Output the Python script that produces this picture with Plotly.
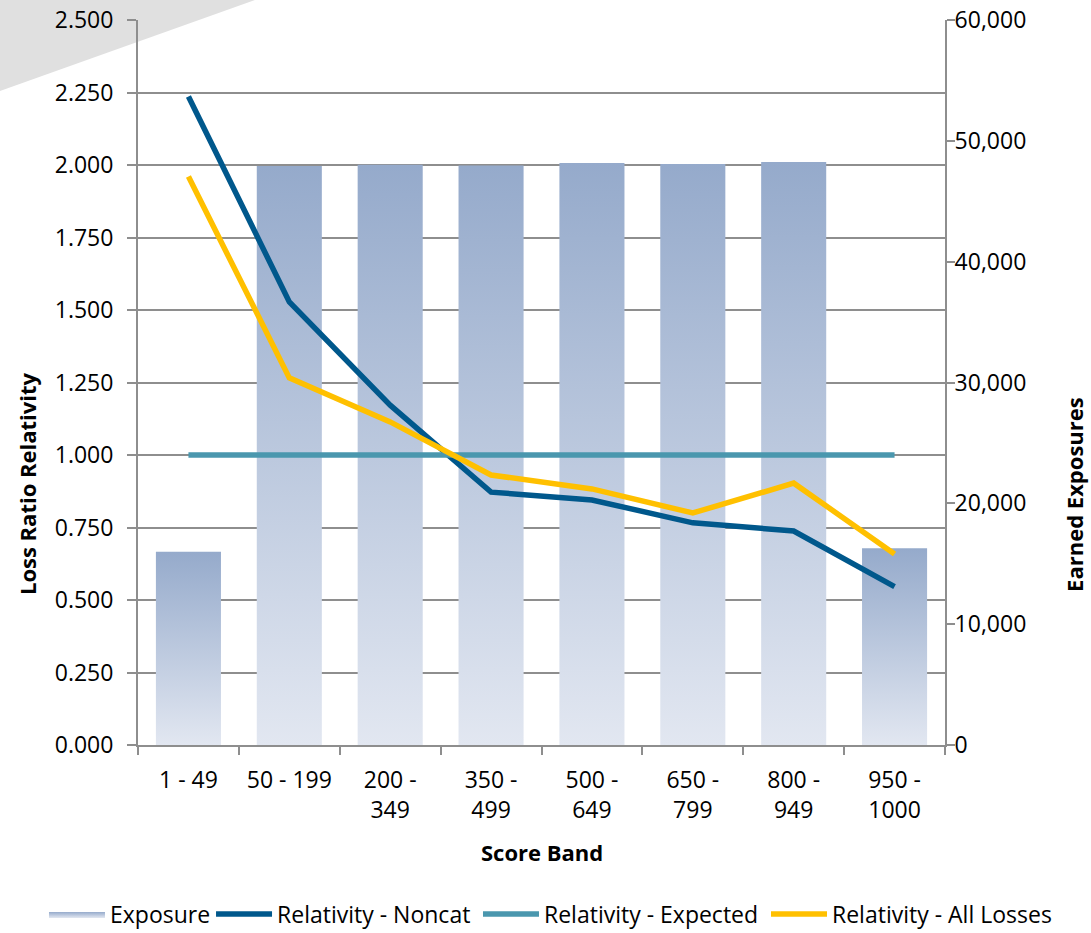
import plotly.graph_objects as go

# Score bands and measured values
score_bands = ["1 - 49", "50 - 199", "200 -<br>349", "350 -<br>499", "500 -<br>649",
               "650 -<br>799", "800 -<br>949", "950 -<br>1000"]
earned_exposures = [16000, 47920, 48020, 47950, 48170, 48080, 48250, 16280]
relativity_noncat = [2.236, 1.528, 1.172, 0.872, 0.845, 0.766, 0.738, 0.546]
relativity_expected = [1.000, 1.000, 1.000, 1.000, 1.000, 1.000, 1.000, 1.000]
relativity_all = [1.960, 1.266, 1.114, 0.931, 0.883, 0.800, 0.903, 0.659]

FONT = "Open Sans"
GRID = "#8e8e8e"
BAR_TOP = "#95aacb"
BAR_BOTTOM = "#e2e7f1"
BAR_WIDTH = 0.645

idx = list(range(len(score_bands)))
fig = go.Figure()

# Exposure bars on the primary (right-hand) axis: one filled polygon per band
# so that each bar gets its own vertical gradient
for i, val in zip(idx, earned_exposures):
    x0, x1 = i - BAR_WIDTH / 2, i + BAR_WIDTH / 2
    fig.add_trace(go.Scatter(
        x=[x0, x1, x1, x0, x0], y=[0, 0, val, val, 0],
        mode="lines", fill="toself", line=dict(width=0, color=BAR_TOP),
        fillgradient=dict(type="vertical", colorscale=[[0, BAR_BOTTOM], [1, BAR_TOP]]),
        name="Exposure", legendgroup="exposure", showlegend=(i == 0),
        legend="legend", yaxis="y", hoverinfo="skip",
    ))

# Relativity lines on the overlaid left-hand axis, drawn above the bars
line_series = [
    ("Relativity - Noncat", relativity_noncat, "#00588c", "legend2"),
    ("Relativity - Expected", relativity_expected, "#4a97ae", "legend3"),
    ("Relativity - All Losses", relativity_all, "#ffc000", "legend4"),
]
for name, vals, color, leg in line_series:
    fig.add_trace(go.Scatter(x=idx, y=vals, mode="lines", yaxis="y2", legend=leg,
                             line=dict(color=color, width=5.5), name=name))

tick_font = dict(family=FONT, size=23, color="#000000")


def legend_box(x):
    # one single-entry legend per series, laid out in a row under the chart
    return dict(
        orientation="h", xref="paper", x=x, xanchor="left",
        yref="paper", y=(745 - 914) / 725, yanchor="middle",
        font=dict(family=FONT, size=23, color="#000000"), itemwidth=56,
        bgcolor="rgba(0,0,0,0)", borderwidth=0,
    )


fig.update_layout(
    width=1091, height=933,
    margin=dict(l=138, r=146, t=20, b=188, autoexpand=False),
    paper_bgcolor="white", plot_bgcolor="white",
    font=dict(family=FONT, size=23, color="#000000"),
    xaxis=dict(
        range=[-0.5, 7.5], tickmode="array", tickvals=idx, ticktext=score_bands,
        ticks="", showgrid=False, zeroline=False,
        showline=True, linecolor=GRID, linewidth=2,
        tickfont=tick_font, ticklabelstandoff=13,
        minor=dict(tickvals=[i - 0.5 for i in range(len(score_bands) + 1)],
                   ticks="outside", ticklen=8, tickcolor=GRID, tickwidth=2, showgrid=False),
    ),
    yaxis=dict(
        range=[0, 60000], dtick=10000, tickformat=",", side="right",
        showgrid=False, zeroline=False,
        showline=True, linecolor=GRID, linewidth=2,
        ticks="outside", ticklen=8, tickcolor=GRID, tickwidth=2,
        tickfont=tick_font, ticklabelstandoff=-5,
    ),
    yaxis2=dict(
        range=[0, 2.5], dtick=0.25, tickformat=".3f",
        overlaying="y", side="left",
        showgrid=True, gridcolor=GRID, gridwidth=1.5, zeroline=False,
        showline=True, linecolor=GRID, linewidth=2,
        ticks="outside", ticklen=9, tickcolor=GRID, tickwidth=2,
        tickfont=tick_font, ticklabelstandoff=9,
    ),
    legend=legend_box(-0.1165),
    legend2=legend_box(0.0905),
    legend3=legend_box(0.4213),
    legend4=legend_box(0.7782),
    showlegend=True,
    shapes=[dict(
        type="path", xref="paper", yref="paper", layer="below",
        path="M -0.175 1.04 L 0.1762 1.04 L -0.175 0.9006 Z",
        fillcolor="#e0e0e0", line=dict(width=0),
    )],
    annotations=[
        dict(text="<b>Score Band</b>", xref="paper", yref="paper", x=0.5, y=-0.1476,
             xanchor="center", yanchor="middle", showarrow=False,
             font=dict(family=FONT, size=22)),
        dict(text="<b>Loss Ratio Relativity</b>", xref="paper", yref="paper",
             x=-0.1375, y=0.36, textangle=-90, xanchor="center", yanchor="middle",
             showarrow=False, font=dict(family=FONT, size=22)),
        dict(text="<b>Earned Exposures</b>", xref="paper", yref="paper",
             x=(1074 - 138) / 807, y=0.345, textangle=-90, xanchor="center",
             yanchor="middle", showarrow=False, font=dict(family=FONT, size=22)),
    ],
)

fig.write_html("out.html")
